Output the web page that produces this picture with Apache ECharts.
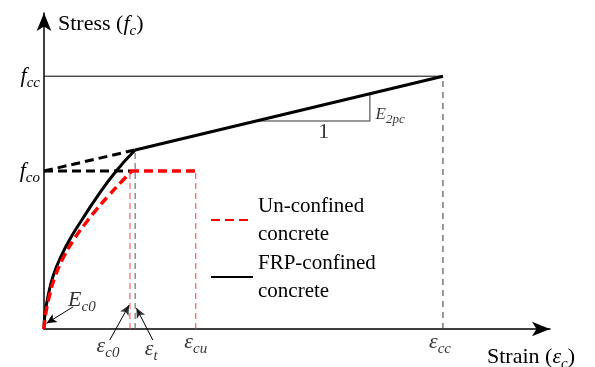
<!DOCTYPE html>
<html>
<head>
<meta charset="utf-8">
<script src="https://cdn.jsdelivr.net/npm/echarts@6/dist/echarts.min.js"></script>
<style>
html, body { margin: 0; padding: 0; background: #fff; }
#main { width: 595px; height: 367px; }
</style>
</head>
<body>
<div id="main"></div>
<script>
// strain in per mille, stress in MPa (schematic)
var epsC0 = 2.0, epsT = 2.12, epsCu = 3.53, epsCc = 9.28;
var fco = 30, ft = 34.0, fcc = 48.0;

var frpCurve = [[0, 0], [0.02, 2.66], [0.10, 6.45], [0.22, 10.25], [0.41, 14.04], [0.66, 17.84],
    [0.88, 20.7], [1.21, 24.8], [1.67, 29.9], [2.12, 34.0]];
var frpLinear = [[2.12, 34.0], [9.28, 48.0]];
var unconfinedCurve = [[0, 0], [0.035, 2.66], [0.13, 6.45], [0.26, 10.0], [0.47, 13.9], [0.72, 17.3],
    [0.95, 19.9], [1.19, 22.4], [1.49, 25.2], [1.84, 28.3], [2.04, 30.0]];
var unconfinedFlat = [[2.0, 30.0], [3.53, 30.0]];
var interceptLine = [[0, 30.0], [2.12, 34.0]];
var fcoLine = [[0, 30.0], [2.0, 30.0]];
var slopeTriangle = [[4.98, 39.5], [7.58, 39.5], [7.58, 44.6]];

var strainTicks = [epsC0, epsT, epsCu, epsCc];
var strainTickNames = ['c0', 't', 'cu', 'cc'];
var stressTicks = [fco, fcc];
var stressTickNames = ['co', 'cc'];

// pointer arrows under the strain axis: [tail, head]
var pointerC0 = [[1.53, -2.09], [1.98, 4.55]];
var pointerT = [[2.53, -2.09], [2.15, 3.98]];

var serif = 'Liberation Serif';
var subRich = {
    e: { fontFamily: serif, fontStyle: 'italic', fontSize: 22, color: '#000' },
    f: { fontFamily: serif, fontStyle: 'italic', fontSize: 22, color: '#000' },
    a: { fontFamily: serif, fontSize: 22, color: '#000' },
    s: { fontFamily: serif, fontStyle: 'italic', fontSize: 15, color: '#000', verticalAlign: 'bottom', padding: [14, 0, 0, 0] },
    E: { fontFamily: serif, fontStyle: 'italic', fontSize: 17, color: '#000' },
    t: { fontFamily: serif, fontStyle: 'italic', fontSize: 13, color: '#000', verticalAlign: 'bottom', padding: [10, 0, 0, 0] }
};

function vline(x, y) {
    return [[x, 0], [x, y]];
}

function plain(name, data, color, width, type, z) {
    return {
        name: name, type: 'line', data: data, symbol: 'none', silent: true, z: z || 2, clip: false,
        lineStyle: { color: color, width: width, type: type }, itemStyle: { color: color }
    };
}

var offsets = [[-22, 17], [16, 20], [0, 13], [-3, 13]];
var tickLabelData = strainTicks.map(function (v, i) {
    return {
        value: [v, 0],
        label: { formatter: '{e|ε}{s|' + strainTickNames[i] + '}', offset: offsets[i] }
    };
});

var noteData = [
    { value: [0.88, 5.5], label: { formatter: '{e|E}{s|c0}' } },
    { value: [6.51, 37.3], label: { formatter: '{a|1}' } },
    { value: [8.05, 40.8], label: { formatter: '{E|E}{t|2pc}' } }
];

var arrowHeads = [
    { value: pointerC0[1], symbolRotate: -28.5 },
    { value: pointerT[1], symbolRotate: 27 }
];

var option = {
    animation: false,
    grid: { left: 44, right: 45, top: 13, bottom: 38, outerBoundsMode: 'none', containLabel: false },
    xAxis: {
        type: 'value', min: 0, max: 11.77,
        axisLine: { show: true, onZero: false, symbol: ['none', 'arrow'], symbolSize: [11, 18],
            lineStyle: { color: '#000', width: 1.5 } },
        axisTick: { show: false },
        axisLabel: { show: false },
        splitLine: { show: false },
        name: '{a|Strain (}{e|ε}{s|c}{a|)}',
        nameLocation: 'end', nameGap: -63,
        nameTextStyle: { align: 'left', verticalAlign: 'top', padding: [14, 0, 0, 0], rich: subRich }
    },
    yAxis: {
        type: 'value', min: 0, max: 60,
        axisLine: { show: true, onZero: false, symbol: ['none', 'arrow'], symbolSize: [11, 18],
            lineStyle: { color: '#000', width: 1.5 } },
        axisTick: { show: false },
        splitLine: { show: false },
        axisLabel: {
            show: true, margin: 4, customValues: stressTicks,
            formatter: function (v) {
                return '{f|f}{s|' + stressTickNames[stressTicks.indexOf(v)] + '}';
            },
            rich: subRich
        },
        name: '{a|Stress (}{f|f}{s|c}{a|)}',
        nameLocation: 'end', nameGap: -11,
        nameTextStyle: { align: 'left', verticalAlign: 'middle', padding: [0, 0, 0, 14], rich: subRich }
    },
    legend: {
        orient: 'vertical', left: 210, top: 192, padding: 0,
        itemWidth: 42, itemHeight: 12, itemGap: 1,
        itemStyle: { opacity: 0 },
        data: ['Un-confined\nconcrete', 'FRP-confined\nconcrete'],
        textStyle: { fontFamily: serif, fontSize: 21, lineHeight: 28, color: '#000' }
    },
    series: [
        plain('', [[0, fcc], [epsCc, fcc]], '#000', 1, 'solid'),
        plain('', vline(epsCc, fcc), '#333', 1, [6, 5]),
        plain('', vline(epsC0, fco), '#ff3b3b', 1, [6, 4]),
        plain('', vline(epsT, ft), '#555', 1, [6, 4]),
        plain('', vline(epsCu, fco), '#ff3b3b', 1, [6, 4]),
        plain('', slopeTriangle, '#777', 1.5, 'solid'),
        plain('', interceptLine, '#000', 3, [9, 5], 3),
        plain('', fcoLine, '#000', 3, [9, 5], 3),
        plain('', frpLinear, '#000', 3, 'solid', 3),
        Object.assign(plain('FRP-confined\nconcrete', frpCurve, '#000', 3, 'solid', 3), { smooth: 0.5 }),
        plain('', unconfinedFlat, '#ff0000', 3.5, [9, 5], 4),
        Object.assign(plain('Un-confined\nconcrete', unconfinedCurve, '#ff0000', 3.5, [9, 5], 4), { smooth: 0.5 }),
        plain('', pointerC0, '#000', 1, 'solid', 5),
        plain('', pointerT, '#000', 1, 'solid', 5),
        {
            type: 'scatter', data: arrowHeads, symbol: 'arrow', symbolSize: [7, 10], clip: false, silent: true, z: 5,
            itemStyle: { color: '#000' }
        },
        {
            type: 'line', data: [], silent: true, clip: false,
            markLine: {
                silent: true, symbol: ['none', 'arrow'], symbolSize: [7, 10],
                lineStyle: { color: '#000', width: 1, type: 'solid' },
                label: { show: false },
                data: [
                    [{ coord: [0.68, 4.23] }, { coord: [0.06, 1.08] }]
                ]
            }
        },
        {
            type: 'scatter', data: tickLabelData, symbolSize: 1, clip: false, silent: true,
            itemStyle: { color: 'transparent' },
            label: { show: true, position: 'inside', rich: subRich }
        },
        {
            type: 'scatter', data: noteData, symbolSize: 1, clip: false, silent: true,
            itemStyle: { color: 'transparent' },
            label: { show: true, position: 'inside', rich: subRich }
        }
    ]
};

var myChart = echarts.init(document.getElementById('main'));
myChart.setOption(option);
</script>
</body>
</html>
